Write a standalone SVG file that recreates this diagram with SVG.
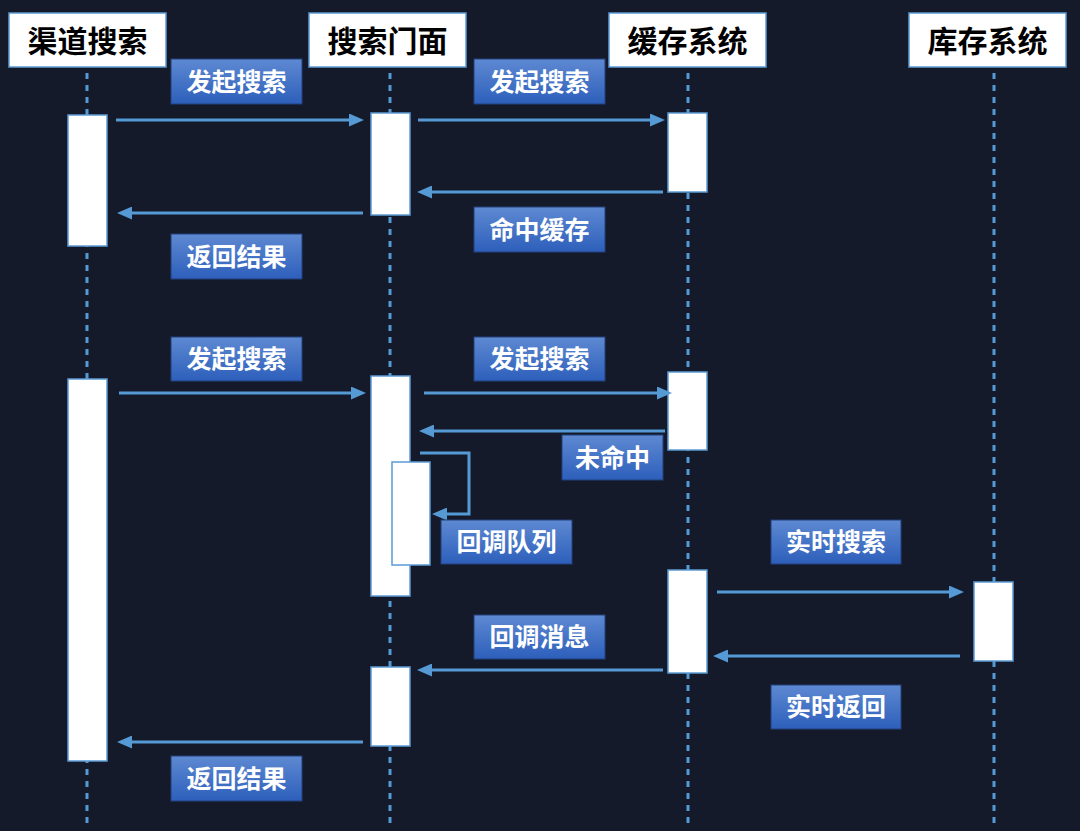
<svg xmlns="http://www.w3.org/2000/svg" width="1080" height="831" viewBox="0 0 1080 831">
<defs>
<linearGradient id="lg" x1="0" y1="0" x2="0" y2="1">
<stop offset="0" stop-color="#5e89d2"/>
<stop offset="1" stop-color="#2d5fbb"/>
</linearGradient>
<marker id="ah" viewBox="0 0 15 13" refX="4" refY="6.5" markerWidth="15" markerHeight="13" markerUnits="userSpaceOnUse" orient="auto">
<path d="M0,0 L15,6.5 L0,13 z" fill="#559ad4"/>
</marker>
<style>
.hdr{fill:#ffffff;stroke:#5b9bd5;stroke-width:1.5}
.htx{font-family:"Noto Sans CJK SC","Noto Sans",sans-serif;font-weight:700;font-size:30px;fill:#000;text-anchor:middle;dominant-baseline:central}
.life{stroke:#559ad4;stroke-width:3;stroke-dasharray:6 6}
.act{fill:#ffffff;stroke:#5b9bd5;stroke-width:1.5}
.lbl{fill:url(#lg);stroke:#22407a;stroke-width:1}
.ltx{font-family:"Noto Sans CJK SC","Noto Sans",sans-serif;font-weight:700;font-size:25px;fill:#fff;text-anchor:middle;dominant-baseline:central}
.msg{stroke:#559ad4;stroke-width:3;fill:none;marker-end:url(#ah)}
</style>
</defs>
<rect width="1080" height="831" fill="#151a2b"/>

<g id="lifelines">
<line class="life" x1="87" y1="73" x2="87" y2="828"/>
<line class="life" x1="390" y1="73" x2="390" y2="828"/>
<line class="life" x1="688" y1="73" x2="688" y2="828"/>
<line class="life" x1="994" y1="73" x2="994" y2="828"/>
</g>

<g id="node-channel"><rect class="hdr" x="9" y="13" width="157" height="54"/><text class="htx" x="87.5" y="38.5">渠道搜索</text></g>
<g id="node-facade"><rect class="hdr" x="309" y="13" width="157" height="54"/><text class="htx" x="387.5" y="38.5">搜索门面</text></g>
<g id="node-cache"><rect class="hdr" x="609" y="13" width="157" height="54"/><text class="htx" x="687.5" y="38.5">缓存系统</text></g>
<g id="node-stock"><rect class="hdr" x="909" y="13" width="157" height="54"/><text class="htx" x="987.5" y="38.5">库存系统</text></g>

<g id="activations">
<rect class="act" x="68" y="115" width="39" height="131"/>
<rect class="act" x="371" y="113" width="39" height="102"/>
<rect class="act" x="668" y="113" width="39" height="79"/>
<rect class="act" x="68" y="379" width="39" height="382"/>
<rect class="act" x="371" y="376" width="39" height="220"/>
<rect class="act" x="392" y="462" width="38" height="103"/>
<rect class="act" x="668" y="372" width="39" height="78"/>
<rect class="act" x="668" y="570" width="39" height="103"/>
<rect class="act" x="974" y="582" width="39" height="79"/>
<rect class="act" x="371" y="667" width="39" height="79"/>
</g>

<g id="connectors">
<line class="msg" x1="116" y1="120" x2="353" y2="120"/>
<line class="msg" x1="418" y1="120" x2="654" y2="120"/>
<line class="msg" x1="663" y1="192" x2="428" y2="192"/>
<line class="msg" x1="363" y1="213" x2="128" y2="213"/>
<line class="msg" x1="119" y1="393" x2="355" y2="393"/>
<line class="msg" x1="424" y1="393" x2="661" y2="393"/>
<line class="msg" x1="665" y1="431" x2="430" y2="431"/>
<path class="msg" d="M420,453 H469 V514 H443"/>
<line class="msg" x1="717" y1="592" x2="953" y2="592"/>
<line class="msg" x1="960" y1="656" x2="724" y2="656"/>
<line class="msg" x1="663" y1="670" x2="428" y2="670"/>
<line class="msg" x1="363" y1="742" x2="128" y2="742"/>
</g>

<g id="labels">
<g id="lbl-1"><rect class="lbl" x="171" y="59" width="131" height="45"/><text class="ltx" x="236.5" y="79.5">发起搜索</text></g>
<g id="lbl-2"><rect class="lbl" x="474" y="59" width="131" height="45"/><text class="ltx" x="539.5" y="79.5">发起搜索</text></g>
<g id="lbl-3"><rect class="lbl" x="474" y="207" width="131" height="45"/><text class="ltx" x="539.5" y="227.5">命中缓存</text></g>
<g id="lbl-4"><rect class="lbl" x="171" y="234" width="131" height="45"/><text class="ltx" x="236.5" y="254.5">返回结果</text></g>
<g id="lbl-5"><rect class="lbl" x="171" y="337" width="131" height="44"/><text class="ltx" x="236.5" y="357">发起搜索</text></g>
<g id="lbl-6"><rect class="lbl" x="474" y="337" width="131" height="44"/><text class="ltx" x="539.5" y="357">发起搜索</text></g>
<g id="lbl-7"><rect class="lbl" x="562" y="435" width="101" height="45"/><text class="ltx" x="612.5" y="455.5">未命中</text></g>
<g id="lbl-8"><rect class="lbl" x="441" y="520" width="131" height="44"/><text class="ltx" x="506.5" y="540">回调队列</text></g>
<g id="lbl-9"><rect class="lbl" x="771" y="520" width="130" height="44"/><text class="ltx" x="836" y="540">实时搜索</text></g>
<g id="lbl-10"><rect class="lbl" x="474" y="615" width="131" height="44"/><text class="ltx" x="539.5" y="635">回调消息</text></g>
<g id="lbl-11"><rect class="lbl" x="771" y="685" width="130" height="44"/><text class="ltx" x="836" y="705">实时返回</text></g>
<g id="lbl-12"><rect class="lbl" x="171" y="756" width="131" height="45"/><text class="ltx" x="236.5" y="776.5">返回结果</text></g>
</g>
</svg>
